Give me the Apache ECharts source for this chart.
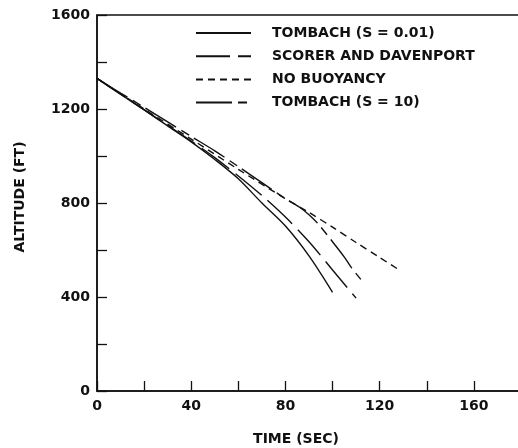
<!DOCTYPE html>
<html>
<head>
<meta charset="utf-8">
<script src="https://cdn.jsdelivr.net/npm/echarts@6/dist/echarts.min.js"></script>
<style>
  html, body { margin: 0; padding: 0; background: #fff; }
  #chart { width: 518px; height: 448px; }
</style>
</head>
<body>
<div id="chart"></div>
<script>
// data: time (sec) vs altitude (ft)
const tombach001Time = [0, 10, 20, 30, 40, 50, 60, 70, 80, 90, 100]
const tombach001Alt = [1330, 1263, 1196, 1128, 1060, 985, 903, 800, 702, 575, 420]

const scorerTime = [0, 10, 20, 30, 40, 50, 60, 70, 80, 90, 100, 110]
const scorerAlt = [1330, 1263, 1197, 1130, 1064, 993, 915, 832, 740, 635, 515, 395]

const noBuoyTime = [0, 20, 40, 60, 80, 90, 100, 110, 120, 128]
const noBuoyAlt = [1330, 1200, 1072, 943, 818, 760, 697, 632, 568, 517]

const tombach10Time = [0, 10, 20, 30, 40, 50, 60, 70, 80, 86, 90, 94, 100, 105, 108, 112]
const tombach10Alt = [1330, 1268, 1207, 1145, 1083, 1022, 955, 887, 818, 782, 750, 710, 635, 570, 525, 475]

const seriesNames = ['TOMBACH (S = 0.01)', 'SCORER AND DAVENPORT', 'NO BUOYANCY', 'TOMBACH (S = 10)']

const xTicks = [0, 40, 80, 120, 160]
const yTicks = [0, 400, 800, 1200, 1600]

const font = 'DejaVu Sans'
const ink = '#111'

function pairs(xs, ys) {
    return xs.map((x, i) => [x, ys[i]])
}

const myChart = echarts.init(document.getElementById('chart'), null, { renderer: 'canvas' })

const textStyle = { fontFamily: font, fontSize: 14, fontWeight: 'bold', color: ink }

const option = {
    backgroundColor: '#fff',
    animation: false,
    grid: {
        left: 97,
        right: -3,
        top: 15,
        bottom: 57,
        containLabel: false,
        outerBoundsMode: 'none',
        show: true,
        borderColor: ink,
        borderWidth: 1.5
    },
    legend: {
        orient: 'vertical',
        left: 190,
        top: 21,
        itemWidth: 55,
        itemHeight: 14,
        itemGap: 9.2,
        data: seriesNames,
        itemStyle: { opacity: 0 },
        textStyle: { ...textStyle, padding: [0, 0, 0, 16] }
    },
    xAxis: {
        type: 'value',
        min: 0,
        max: 180,
        interval: 20,
        name: 'TIME (SEC)',
        nameLocation: 'middle',
        nameGap: 41,
        nameTextStyle: { ...textStyle, padding: [0, 26, 0, 0] },
        axisLine: { lineStyle: { color: ink, width: 1.5 } },
        axisTick: { inside: true, length: 10, lineStyle: { color: ink, width: 1.3 } },
        axisLabel: {
            ...textStyle, margin: 8,
            formatter: v => xTicks.includes(v) ? String(v) : ''
        },
        splitLine: { show: false }
    },
    yAxis: {
        type: 'value',
        min: 0,
        max: 1600,
        interval: 200,
        name: 'ALTITUDE (FT)',
        nameLocation: 'middle',
        nameGap: 70,
        nameTextStyle: { ...textStyle, padding: [0, 0, 0, 12] },
        axisLine: { show: true, lineStyle: { color: ink, width: 1.5 } },
        axisTick: { show: true, inside: true, length: 10, lineStyle: { color: ink, width: 1.3 } },
        axisLabel: {
            ...textStyle, margin: 7,
            formatter: v => yTicks.includes(v) ? String(v) : ''
        },
        splitLine: { show: false }
    },
    series: [
        {
            name: seriesNames[0],
            type: 'line',
            smooth: 0.3,
            symbol: 'none',
            data: pairs(tombach001Time, tombach001Alt),
            lineStyle: { color: ink, width: 1.4, type: 'solid' },
            itemStyle: { color: ink }
        },
        {
            name: seriesNames[1],
            type: 'line',
            smooth: 0.3,
            symbol: 'none',
            data: pairs(scorerTime, scorerAlt),
            lineStyle: { color: ink, width: 1.4, type: [34, 8] },
            itemStyle: { color: ink }
        },
        {
            name: seriesNames[2],
            type: 'line',
            smooth: 0.3,
            symbol: 'none',
            data: pairs(noBuoyTime, noBuoyAlt),
            lineStyle: { color: ink, width: 1.4, type: [7, 5] },
            itemStyle: { color: ink }
        },
        {
            name: seriesNames[3],
            type: 'line',
            smooth: 0.3,
            symbol: 'none',
            data: pairs(tombach10Time, tombach10Alt),
            lineStyle: { color: ink, width: 1.4, type: [36, 6, 9, 6] },
            itemStyle: { color: ink }
        }
    ]
}

myChart.setOption(option)
</script>
</body>
</html>
